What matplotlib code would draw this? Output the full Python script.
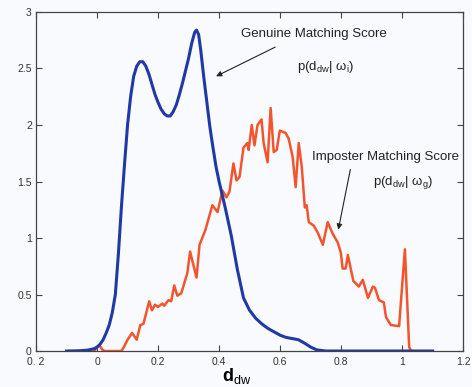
import numpy as np
import matplotlib
matplotlib.use('Agg')
import matplotlib.pyplot as plt

plt.rcParams['font.family'] = ['Liberation Sans', 'DejaVu Sans']
plt.rcParams['mathtext.fontset'] = 'custom'
plt.rcParams['mathtext.rm'] = 'Liberation Sans'
plt.rcParams['mathtext.it'] = 'Liberation Sans:italic'
plt.rcParams['mathtext.bf'] = 'Liberation Sans:bold'

# genuine matching score density (blue)
genuine_x = [-0.1, -0.06, -0.03, -0.01, 0.0, 0.01, 0.02, 0.03, 0.04, 0.05,
             0.06, 0.07, 0.08, 0.09, 0.10, 0.11, 0.12, 0.13, 0.14, 0.15,
             0.16, 0.17, 0.18, 0.19, 0.20, 0.21, 0.22, 0.23, 0.24, 0.25,
             0.26, 0.27, 0.28, 0.29, 0.30, 0.31, 0.32, 0.326, 0.333, 0.34,
             0.35, 0.36, 0.37, 0.38, 0.39, 0.40, 0.42, 0.44, 0.46, 0.48,
             0.50, 0.52, 0.54, 0.56, 0.58, 0.60, 0.62, 0.64, 0.66, 0.68,
             0.70, 0.72, 0.75, 1.1]
genuine_y = [0.0, 0.002, 0.008, 0.02, 0.035, 0.06, 0.1, 0.16, 0.23, 0.34,
             0.5, 0.86, 1.28, 1.65, 2.0, 2.25, 2.43, 2.52, 2.56, 2.56,
             2.52, 2.45, 2.36, 2.27, 2.2, 2.14, 2.1, 2.08, 2.08, 2.12,
             2.18, 2.27, 2.37, 2.48, 2.59, 2.72, 2.82, 2.84, 2.8, 2.66,
             2.42, 2.2, 1.98, 1.8, 1.63, 1.5, 1.27, 1.02, 0.72, 0.47,
             0.36, 0.29, 0.24, 0.2, 0.17, 0.14, 0.12, 0.11, 0.1, 0.07,
             0.035, 0.01, 0.0, 0.0]

# imposter matching score density (red)
imposter_x = [-0.01, 0.0, 0.008, 0.018, 0.025, 0.08, 0.087, 0.1, 0.115, 0.13,
              0.142, 0.152, 0.171, 0.18, 0.19, 0.2, 0.214, 0.22, 0.234, 0.243,
              0.253, 0.263, 0.276, 0.296, 0.305, 0.326, 0.336, 0.355, 0.378, 0.395,
              0.411, 0.424, 0.434, 0.447, 0.457, 0.467, 0.48, 0.493, 0.497, 0.507,
              0.516, 0.526, 0.539, 0.546, 0.559, 0.569, 0.579, 0.589, 0.599, 0.618,
              0.628, 0.641, 0.651, 0.661, 0.671, 0.681, 0.687, 0.694, 0.71, 0.723,
              0.74, 0.756, 0.772, 0.789, 0.799, 0.805, 0.815, 0.822, 0.84, 0.858,
              0.871, 0.888, 0.904, 0.911, 0.924, 0.94, 0.947, 0.963, 0.99, 1.009,
              1.023, 1.03]
imposter_y = [0.0, 0.03, 0.05, 0.01, 0.0, 0.0, 0.03, 0.1, 0.16, 0.1,
              0.23, 0.24, 0.44, 0.36, 0.41, 0.39, 0.42, 0.4, 0.45, 0.44,
              0.58, 0.49, 0.51, 0.69, 0.88, 0.65, 0.94, 1.07, 1.29, 1.23,
              1.42, 1.36, 1.41, 1.66, 1.51, 1.54, 1.8, 1.84, 1.78, 2.0,
              1.82, 2.0, 2.05, 1.84, 1.67, 2.15, 1.76, 1.78, 1.95, 1.93,
              1.88, 1.72, 1.45, 1.84, 1.63, 1.27, 1.29, 1.14, 1.11, 1.05,
              0.94, 1.14, 1.04, 0.96, 0.87, 0.73, 0.73, 0.85, 0.62, 0.57,
              0.63, 0.47, 0.57, 0.56, 0.45, 0.43, 0.3, 0.23, 0.22, 0.9,
              0.035, 0.0]

xticks = [-0.2, 0, 0.2, 0.4, 0.6, 0.8, 1, 1.2]
xtick_labels = ['0. 2', '0', '0.2', '0.4', '0.6', '0.8', '1', '1.2']
yticks = [0, 0.5, 1, 1.5, 2, 2.5, 3]
ytick_labels = ['0', '0.5', '1', '1.5', '2', '2.5', '3']

bg = '#f9fafd'
fig = plt.figure(figsize=(4.72, 3.87), dpi=100, facecolor=bg)
ax = fig.add_axes([0.0763, 0.093, 0.905, 0.876], facecolor=bg)

ax.plot(imposter_x, imposter_y, color='#f2552e', lw=1.8, solid_joinstyle='round')
ax.plot(genuine_x, genuine_y, color='#1f3aa6', lw=2.2, solid_joinstyle='round')

ax.set_xlim(-0.2, 1.2)
ax.set_ylim(0, 3)
ax.set_xticks(xticks)
ax.set_xticklabels(xtick_labels)
ax.set_yticks(yticks)
ax.set_yticklabels(ytick_labels)
ax.tick_params(direction='in', top=True, right=True, length=4, width=0.8,
               labelsize=7.5, labelcolor='#333333', color='#444444', pad=3)
ax.tick_params(axis='x', pad=4.5)
for s in ax.spines.values():
    s.set_color('#444444')
    s.set_linewidth(0.9)

ax.text(0.71, 2.805, 'Genuine Matching Score', ha='center', va='center',
        fontsize=9.5, color='#222222')
ax.text(0.75, 2.51, r'p(d$_{\mathrm{dw}}$| ω$_{\mathrm{i}}$)', ha='center',
        va='center', fontsize=9.5, color='#222222')
ax.text(0.944, 1.717, 'Imposter Matching Score', ha='center', va='center',
        fontsize=9.5, color='#222222')
ax.text(1.003, 1.487, r'p(d$_{\mathrm{dw}}$| ω$_{\mathrm{g}}$)', ha='center',
        va='center', fontsize=9.5, color='#222222')

arrow = dict(arrowstyle='-|>', color='#222222', lw=0.8, mutation_scale=8)
ax.annotate('', xy=(0.382, 2.42), xytext=(0.592, 2.70), arrowprops=arrow)
ax.annotate('', xy=(0.789, 1.05), xytext=(0.832, 1.63), arrowprops=arrow)

fig.text(0.47, 0.002, r'$\mathbf{d}_{\mathrm{dw}}$', ha='left', va='bottom',
         fontsize=13)

fig.savefig('out.png', dpi=100, facecolor=bg)
